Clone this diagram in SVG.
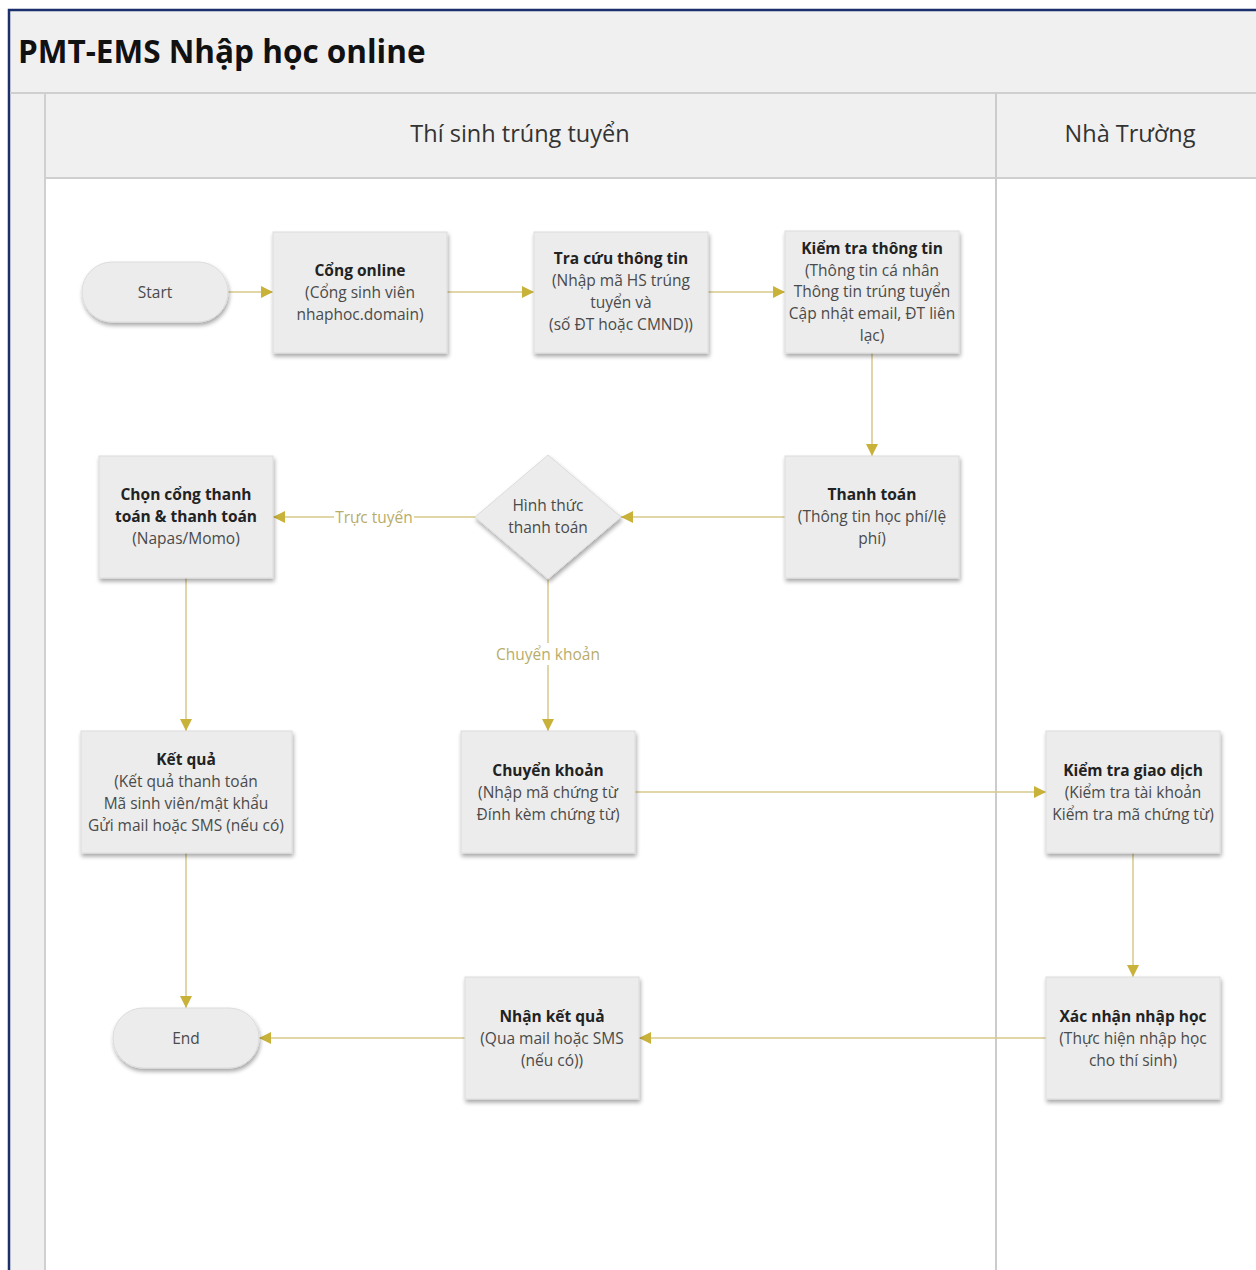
<svg xmlns="http://www.w3.org/2000/svg" width="1256" height="1270" viewBox="0 0 1256 1270">
<defs>
<filter id="sh" x="-10%" y="-10%" width="130%" height="130%">
<feGaussianBlur in="SourceAlpha" stdDeviation="2"/>
<feOffset dx="1" dy="3" result="b"/>
<feComponentTransfer><feFuncA type="linear" slope="0.35"/></feComponentTransfer>
<feMerge><feMergeNode/><feMergeNode in="SourceGraphic"/></feMerge>
</filter>
<marker id="arr" viewBox="0 0 10 10" refX="10" refY="5" markerWidth="12" markerHeight="12" markerUnits="userSpaceOnUse" orient="auto">
<path d="M0,0 L10,5 L0,10 z" fill="#c9b23a"/>
</marker>
</defs>
<style>
.box{fill:#ececec;stroke:#dcdcdc;stroke-width:1;filter:url(#sh)}
.t{font-family:"Open Sans","Noto Sans","DejaVu Sans",sans-serif;font-size:15.5px;fill:#4a4a4a;text-anchor:middle}
.b{font-weight:bold;fill:#222}
.c{fill:none;stroke:#d6c98a;stroke-width:1.5;marker-end:url(#arr)}
.lbl{font-family:"Open Sans","Noto Sans","DejaVu Sans",sans-serif;font-size:15.5px;fill:#b8ac6a;text-anchor:middle}
.hdr{font-family:"Open Sans","Noto Sans","DejaVu Sans",sans-serif;font-size:23.5px;fill:#333;text-anchor:middle}
</style>
<rect x="0" y="0" width="1256" height="1270" fill="#ffffff"/>
<g id="pool">
<rect x="9" y="10" width="1260" height="1270" fill="#f0f0f0" stroke="#1a2f6b" stroke-width="2.5"/>
<rect x="46" y="179" width="1220" height="1100" fill="#ffffff"/>
<line x1="10" y1="93" x2="1256" y2="93" stroke="#cfcfcf" stroke-width="2"/>
<line x1="45" y1="93" x2="45" y2="1270" stroke="#d0d0d0" stroke-width="2"/>
<line x1="46" y1="178" x2="1256" y2="178" stroke="#cfcfcf" stroke-width="2"/>
<line x1="996" y1="93" x2="996" y2="1270" stroke="#cccccc" stroke-width="2"/>
<text x="18" y="63" font-family="'Open Sans','Noto Sans',sans-serif" font-size="31.5" font-weight="bold" fill="#111">PMT-EMS Nhập học online</text>
<text class="hdr" x="520" y="142">Thí sinh trúng tuyển</text>
<text class="hdr" x="1130" y="142">Nhà Trường</text>
</g>
<g id="connectors">
<line class="c" x1="228" y1="292" x2="273" y2="292"/>
<line class="c" x1="447" y1="292" x2="534" y2="292"/>
<line class="c" x1="708" y1="292" x2="785" y2="292"/>
<line class="c" x1="872" y1="353" x2="872" y2="456"/>
<line class="c" x1="785" y1="517" x2="621" y2="517"/>
<line class="c" x1="475" y1="517" x2="273" y2="517"/>
<line class="c" x1="186" y1="578" x2="186" y2="731"/>
<line class="c" x1="548" y1="579" x2="548" y2="731"/>
<line class="c" x1="635" y1="792" x2="1046" y2="792"/>
<line class="c" x1="1133" y1="853" x2="1133" y2="977"/>
<line class="c" x1="1046" y1="1038" x2="639" y2="1038"/>
<line class="c" x1="465" y1="1038" x2="259" y2="1038"/>
<line class="c" x1="186" y1="853" x2="186" y2="1008"/>
<rect x="334" y="506" width="80" height="22" fill="#ffffff"/>
<text class="lbl" x="374" y="523">Trực tuyến</text>
<rect x="494" y="643" width="108" height="22" fill="#ffffff"/>
<text class="lbl" x="548" y="660">Chuyển khoản</text>
</g>
<g id="start">
<rect class="box" x="82" y="262" width="146" height="60" rx="30"/>
<text class="t" x="155" y="298">Start</text>
</g>
<g id="cong-online">
<rect class="box" x="273" y="232" width="174" height="121"/>
<text class="t b" x="360" y="276">Cổng online</text>
<text class="t" x="360" y="298">(Cổng sinh viên</text>
<text class="t" x="360" y="320">nhaphoc.domain)</text>
</g>
<g id="tra-cuu">
<rect class="box" x="534" y="232" width="174" height="121"/>
<text class="t b" x="621" y="264">Tra cứu thông tin</text>
<text class="t" x="621" y="286">(Nhập mã HS trúng</text>
<text class="t" x="621" y="308">tuyển và</text>
<text class="t" x="621" y="330">(số ĐT hoặc CMND))</text>
</g>
<g id="kiem-tra-thong-tin">
<rect class="box" x="785" y="231" width="174" height="122"/>
<text class="t b" x="872" y="254">Kiểm tra thông tin</text>
<text class="t" x="872" y="276">(Thông tin cá nhân</text>
<text class="t" x="872" y="297">Thông tin trúng tuyển</text>
<text class="t" x="872" y="319">Cập nhật email, ĐT liên</text>
<text class="t" x="872" y="341">lạc)</text>
</g>
<g id="thanh-toan">
<rect class="box" x="785" y="456" width="174" height="122"/>
<text class="t b" x="872" y="500">Thanh toán</text>
<text class="t" x="872" y="522">(Thông tin học phí/lệ</text>
<text class="t" x="872" y="544">phí)</text>
</g>
<g id="hinh-thuc">
<polygon class="box" points="548,455 621,517 548,579 475,517"/>
<text class="t" x="548" y="511">Hình thức</text>
<text class="t" x="548" y="533">thanh toán</text>
</g>
<g id="chon-cong">
<rect class="box" x="99" y="456" width="174" height="122"/>
<text class="t b" x="186" y="500">Chọn cổng thanh</text>
<text class="t b" x="186" y="522">toán &amp; thanh toán</text>
<text class="t" x="186" y="544">(Napas/Momo)</text>
</g>
<g id="ket-qua">
<rect class="box" x="81" y="731" width="211" height="122"/>
<text class="t b" x="186" y="765">Kết quả</text>
<text class="t" x="186" y="787">(Kết quả thanh toán</text>
<text class="t" x="186" y="809">Mã sinh viên/mật khẩu</text>
<text class="t" x="186" y="831">Gửi mail hoặc SMS (nếu có)</text>
</g>
<g id="chuyen-khoan">
<rect class="box" x="461" y="731" width="174" height="122"/>
<text class="t b" x="548" y="776">Chuyển khoản</text>
<text class="t" x="548" y="798">(Nhập mã chứng từ</text>
<text class="t" x="548" y="820">Đính kèm chứng từ)</text>
</g>
<g id="kiem-tra-giao-dich">
<rect class="box" x="1046" y="731" width="174" height="122"/>
<text class="t b" x="1133" y="776">Kiểm tra giao dịch</text>
<text class="t" x="1133" y="798">(Kiểm tra tài khoản</text>
<text class="t" x="1133" y="820">Kiểm tra mã chứng từ)</text>
</g>
<g id="xac-nhan">
<rect class="box" x="1046" y="977" width="174" height="122"/>
<text class="t b" x="1133" y="1022">Xác nhận nhập học</text>
<text class="t" x="1133" y="1044">(Thực hiện nhập học</text>
<text class="t" x="1133" y="1066">cho thí sinh)</text>
</g>
<g id="nhan-ket-qua">
<rect class="box" x="465" y="977" width="174" height="122"/>
<text class="t b" x="552" y="1022">Nhận kết quả</text>
<text class="t" x="552" y="1044">(Qua mail hoặc SMS</text>
<text class="t" x="552" y="1066">(nếu có))</text>
</g>
<g id="end">
<rect class="box" x="113" y="1008" width="146" height="60" rx="30"/>
<text class="t" x="186" y="1044">End</text>
</g>
</svg>
